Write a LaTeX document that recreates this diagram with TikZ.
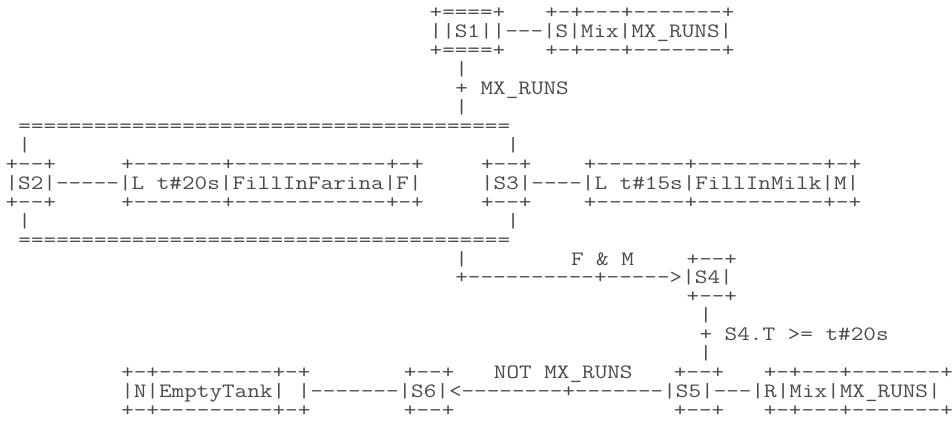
\documentclass[tikz,border=0pt]{standalone}
\usepackage{fontspec}
\newfontfamily\asciifont[FakeStretch=1.2]{Latin Modern Mono}
\usepackage{tikz}
\definecolor{ink}{HTML}{4A4A4A}
\tikzset{
  ascii/.style={anchor=base west,inner sep=0pt,outer sep=0pt,text=ink,
    font=\asciifont\fontsize{20.4}{20.4}\selectfont},
}
\begin{document}
\begin{tikzpicture}[x=12.85pt,y=-18.95pt]
  \useasboundingbox (0pt,0pt) rectangle (952pt,-421pt);
  \begin{scope}[shift={(5.6pt,0.3pt)}]

  % initial step S1 with its action block
  \node[ascii] (s1top) at (33,1) {+====+};
  \node[ascii] (mixtop) at (42,1) {+-+---+-------+};
  \node[ascii] (s1) at (33,2) {||S1||---|S|Mix|MX\_RUNS|};
  \node[ascii] (s1bot) at (33,3) {+====+};
  \node[ascii] (mixbot) at (42,3) {+-+---+-------+};
  \node[ascii] (l1) at (35,4) {|};
  \node[ascii] (t1) at (35,5) {+\ MX\_RUNS};
  \node[ascii] (l2) at (35,6) {|};

  % simultaneous branch S2 / S3
  \node[ascii] (split) at (1,7) {=======================================};
  \node[ascii] (l3) at (1,8) {|};
  \node[ascii] (l4) at (39,8) {|};
  \node[ascii] (s2top) at (0,9) {+--+};
  \node[ascii] (farinatop) at (9,9) {+-------+------------+-+};
  \node[ascii] (s3top) at (37,9) {+--+};
  \node[ascii] (milktop) at (45,9) {+-------+----------+-+};
  \node[ascii] (s2) at (0,10) {|S2|-----|L\ t\#20s|FillInFarina|F|};
  \node[ascii] (s3) at (37,10) {|S3|----|L\ t\#15s|FillInMilk|M|};
  \node[ascii] (s2bot) at (0,11) {+--+};
  \node[ascii] (farinabot) at (9,11) {+-------+------------+-+};
  \node[ascii] (s3bot) at (37,11) {+--+};
  \node[ascii] (milkbot) at (45,11) {+-------+----------+-+};
  \node[ascii] (l5) at (1,12) {|};
  \node[ascii] (l6) at (39,12) {|};
  \node[ascii] (join) at (1,13) {=======================================};

  % transition to S4
  \node[ascii] (l7) at (35,14) {|};
  \node[ascii] (t2) at (44,14) {F\ \&\ M};
  \node[ascii] (s4top) at (53,14) {+--+};
  \node[ascii] (s4) at (35,15) {+----------+----->|S4|};
  \node[ascii] (s4bot) at (53,16) {+--+};
  \node[ascii] (l8) at (54,17) {|};
  \node[ascii] (t3) at (54,18) {+\ S4.T\ >=\ t\#20s};
  \node[ascii] (l9) at (54,19) {|};

  % steps S5 and S6
  \node[ascii] (tanktop) at (9,20) {+-+---------+-+};
  \node[ascii] (s6top) at (31,20) {+--+};
  \node[ascii] (t4) at (38,20) {NOT\ MX\_RUNS};
  \node[ascii] (s5top) at (52,20) {+--+};
  \node[ascii] (resettop) at (59,20) {+-+---+-------+};
  \node[ascii] (s56) at (9,21) {|N|EmptyTank|\ |-------|S6|<--------+-------|S5|---|R|Mix|MX\_RUNS|};
  \node[ascii] (tankbot) at (9,22) {+-+---------+-+};
  \node[ascii] (s6bot) at (31,22) {+--+};
  \node[ascii] (s5bot) at (52,22) {+--+};
  \node[ascii] (resetbot) at (59,22) {+-+---+-------+};

  \end{scope}
\end{tikzpicture}
\end{document}
